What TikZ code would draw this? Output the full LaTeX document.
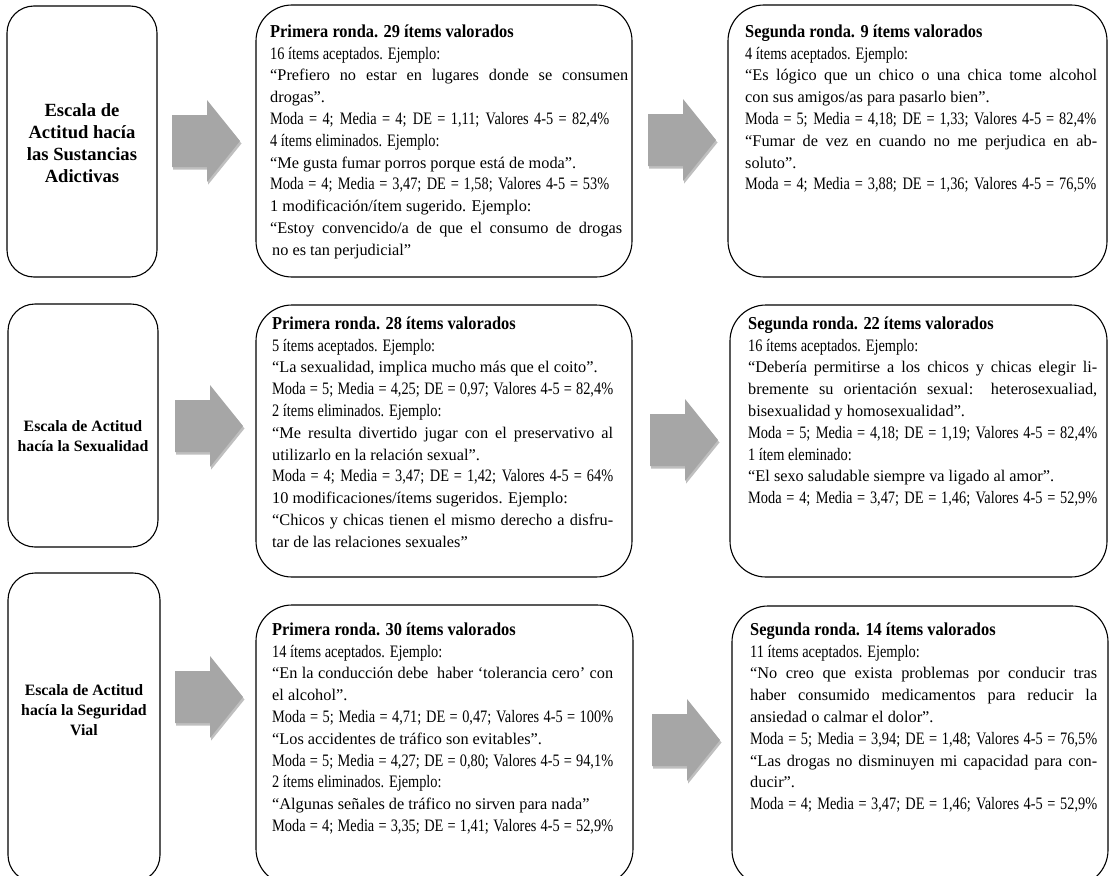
\documentclass[tikz,border=0pt]{standalone}
\usepackage{fontspec}
\setmainfont{Liberation Serif}
\newfontfamily\cfont{Liberation Serif}[FakeStretch=0.82]
\newfontfamily\tfont{Liberation Serif}[FakeStretch=0.9]
\definecolor{arrowgray}{HTML}{A6A6A6}
\definecolor{shadowgray}{HTML}{8A8A8A}
\newcommand{\cs}[1]{{\cfont\fontsize{17.5}{21.8}\selectfont #1}}
\newcommand{\md}[2]{\makebox[#1][s]{\cfont\fontsize{17.5}{21.8}\selectfont #2}}
\newcommand{\ttl}[1]{\rule{0pt}{14pt}{\tfont\bfseries\fontsize{18.2}{21.8}\selectfont #1}}
\newcommand{\jq}[2]{\makebox[#1][s]{#2}}
\tikzset{
  lbox/.style={draw=black, line width=1.1pt, rounded corners=27pt, inner sep=0pt},
  tbox/.style={draw=black, line width=1.1pt, rounded corners=36pt, inner sep=0pt},
  txt/.style={anchor=north west, inner sep=0pt, align=left, font=\fontsize{16.3}{21.8}\selectfont},
  ltxtA/.style={inner sep=0pt, align=center, font=\bfseries\fontsize{18.6}{22}\selectfont},
  ltxtB/.style={inner sep=0pt, align=center, font=\bfseries\fontsize{15.8}{20.2}\selectfont},
  blockarrow/.pic={
    \fill[shadowgray, opacity=0.55] (1.2,-23.5) -- (36.2,-23.5) -- (36.2,-38.5) -- (69.5,2.5) -- (36.2,43.5) -- (36.2,28.5) -- (1.2,28.5) -- cycle;
    \fill[arrowgray] (0,-26) -- (35,-26) -- (35,-41) -- (68,0) -- (35,41) -- (35,26) -- (0,26) -- cycle;
  }
}
\begin{document}
\begin{tikzpicture}[x=1pt,y=-1pt]
\useasboundingbox (0,0) rectangle (1113,875);
\clip (0,0) rectangle (1113,875);
% boxes
\node[lbox, minimum width=150pt, minimum height=271pt] (L1) at (82,141.5) {};
\node[lbox, minimum width=150pt, minimum height=243pt] (L2) at (83,425.5) {};
\node[lbox, minimum width=152pt, minimum height=309pt] (L3) at (84,727.5) {};
\node[tbox, minimum width=376pt, minimum height=272pt] (M1) at (444,141) {};
\node[tbox, minimum width=376pt, minimum height=272pt] (M2) at (444,441) {};
\node[tbox, minimum width=377pt, minimum height=280pt] (M3) at (444.5,745) {};
\node[tbox, minimum width=379pt, minimum height=272pt] (R1) at (917.5,141) {};
\node[tbox, minimum width=377pt, minimum height=272pt] (R2) at (918.5,441) {};
\node[tbox, minimum width=376pt, minimum height=280pt] (R3) at (920,746) {};
% arrows
\pic at (172,141) {blockarrow};
\pic at (648,140) {blockarrow};
\pic at (175,426) {blockarrow};
\pic at (650,440) {blockarrow};
\pic at (175,697) {blockarrow};
\pic at (652,740) {blockarrow};
% left texts
\node[ltxtA] (L1t) at (82,143) {Escala de\\Actitud hacía\\las Sustancias\\Adictivas};
\node[ltxtB] (L2t) at (83,436) {Escala de Actitud\\hacía la Sexualidad};
\node[ltxtB] (L3t) at (84,710) {Escala de Actitud\\hacía la Seguridad\\Vial};
% middle texts
\node[txt] (M1t) at (270,23) {\ttl{Primera ronda. 29 ítems valorados}\\
\cs{16 ítems aceptados. Ejemplo:}\\
\jq{358pt}{“Prefiero no estar en lugares donde se consumen}\\
drogas”.\\
\md{339pt}{Moda = 4; Media = 4; DE = 1,11; Valores 4-5 = 82,4\%}\\
\cs{4 ítems eliminados. Ejemplo:}\\
“Me gusta fumar porros porque está de moda”.\\
\md{339pt}{Moda = 4; Media = 3,47; DE = 1,58; Valores 4-5 = 53\%}\\
1 modificación/ítem sugerido. Ejemplo:\\
\jq{352pt}{“Estoy convencido/a de que el consumo de drogas}\\
\hspace{2pt}no es tan perjudicial”};
\node[txt] (M2t) at (272,315) {\ttl{Primera ronda. 28 ítems valorados}\\
\cs{5 ítems aceptados. Ejemplo:}\\
“La sexualidad, implica mucho más que el coito”.\\
\md{341pt}{Moda = 5; Media = 4,25; DE = 0,97; Valores 4-5 = 82,4\%}\\
\cs{2 ítems eliminados. Ejemplo:}\\
\jq{341pt}{“Me resulta divertido jugar con el preservativo al}\\
utilizarlo en la relación sexual”.\\
\md{341pt}{Moda = 4; Media = 3,47; DE = 1,42; Valores 4-5 = 64\%}\\
10 modificaciones/ítems sugeridos. Ejemplo:\\
\jq{341pt}{“Chicos y chicas tienen el mismo derecho a disfru-}\\
tar de las relaciones sexuales”};
\node[txt] (M3t) at (272,621) {\ttl{Primera ronda. 30 ítems valorados}\\
\cs{14 ítems aceptados. Ejemplo:}\\
\jq{341pt}{“En la conducción debe\ \ haber ‘tolerancia cero’ con}\\
el alcohol”.\\
\md{341pt}{Moda = 5; Media = 4,71; DE = 0,47; Valores 4-5 = 100\%}\\
“Los accidentes de tráfico son evitables”.\\
\md{341pt}{Moda = 5; Media = 4,27; DE = 0,80; Valores 4-5 = 94,1\%}\\
\cs{2 ítems eliminados. Ejemplo:}\\
“Algunas señales de tráfico no sirven para nada”\\
\md{341pt}{Moda = 4; Media = 3,35; DE = 1,41; Valores 4-5 = 52,9\%}};
% right texts
\node[txt] (R1t) at (745,23) {\ttl{Segunda ronda. 9 ítems valorados}\\
\cs{4 ítems aceptados. Ejemplo:}\\
\jq{352pt}{“Es lógico que un chico o una chica tome alcohol}\\
con sus amigos/as para pasarlo bien”.\\
\md{351pt}{Moda = 5; Media = 4,18; DE = 1,33; Valores 4-5 = 82,4\%}\\
\jq{352pt}{“Fumar de vez en cuando no me perjudica en ab-}\\
soluto”.\\
\md{351pt}{Moda = 4; Media = 3,88; DE = 1,36; Valores 4-5 = 76,5\%}};
\node[txt] (R2t) at (748,315) {\ttl{Segunda ronda. 22 ítems valorados}\\
\cs{16 ítems aceptados. Ejemplo:}\\
\jq{349pt}{“Debería permitirse a los chicos y chicas elegir li-}\\
\jq{349pt}{bremente su orientación sexual: heterosexualiad,}\\
bisexualidad y homosexualidad”.\\
\md{349pt}{Moda = 5; Media = 4,18; DE = 1,19; Valores 4-5 = 82,4\%}\\
\cs{1 ítem eleminado:}\\
“El sexo saludable siempre va ligado al amor”.\\
\md{349pt}{Moda = 4; Media = 3,47; DE = 1,46; Valores 4-5 = 52,9\%}};
\node[txt] (R3t) at (750,621) {\ttl{Segunda ronda. 14 ítems valorados}\\
\cs{11 ítems aceptados. Ejemplo:}\\
\jq{347pt}{“No creo que exista problemas por conducir tras}\\
\jq{347pt}{haber consumido medicamentos para reducir la}\\
ansiedad o calmar el dolor”.\\
\md{347pt}{Moda = 5; Media = 3,94; DE = 1,48; Valores 4-5 = 76,5\%}\\
\jq{347pt}{“Las drogas no disminuyen mi capacidad para con-}\\
ducir”.\\
\md{347pt}{Moda = 4; Media = 3,47; DE = 1,46; Valores 4-5 = 52,9\%}};
\end{tikzpicture}
\end{document}
